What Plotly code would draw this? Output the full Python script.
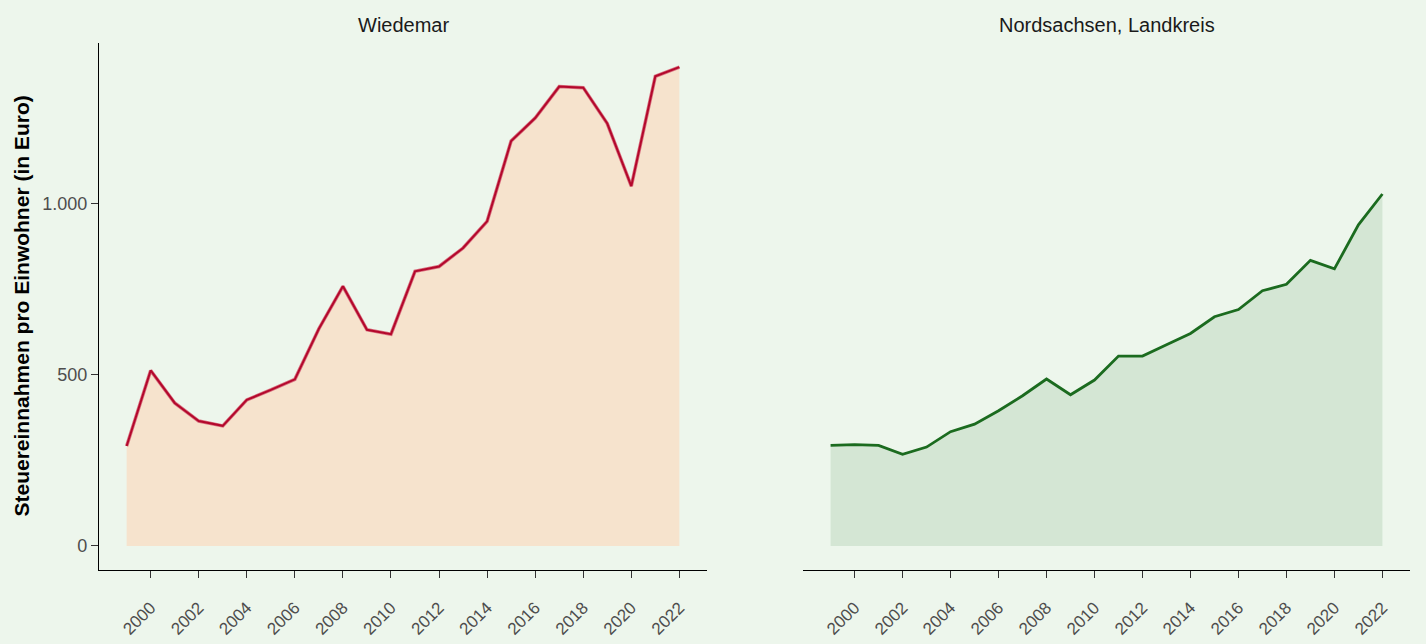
import plotly.graph_objects as go

years = list(range(1999, 2023))
wiedemar = [292, 513, 418, 365, 351, 427, 456, 487, 635, 759, 632, 619, 803, 817, 871, 949,
            1184, 1251, 1343, 1340, 1235, 1052, 1373, 1400]
nordsachsen = [294, 296, 294, 268, 289, 334, 356, 395, 439, 488, 442, 485, 555, 555, 588, 621,
               670, 691, 746, 765, 835, 810, 939, 1029]
panel_titles = ["Wiedemar", "Nordsachsen, Landkreis"]
x_ticks = list(range(2000, 2023, 2))
x_ticktext = [str(v) for v in x_ticks]
y_ticks = [0, 500, 1000]
y_ticktext = ["0", "500", "1.000"]
y_title = "Steuereinnahmen pro Einwohner (in Euro)"

BG = "#EDF6EC"
FONT = "Liberation Sans, Arial, sans-serif"

fig = go.Figure()

# Wiedemar
fig.add_trace(go.Scatter(x=years, y=wiedemar, mode="lines", fill="tozeroy",
                         fillcolor="#F6E3CD", line=dict(color="#D9707F", width=3.5),
                         xaxis="x", yaxis="y", hoverinfo="skip", showlegend=False))
fig.add_trace(go.Scatter(x=years, y=wiedemar, mode="lines",
                         line=dict(color="#B3082C", width=2),
                         xaxis="x", yaxis="y", showlegend=False))
# Nordsachsen
fig.add_trace(go.Scatter(x=years, y=nordsachsen, mode="lines", fill="tozeroy",
                         fillcolor="#D4E6D4", line=dict(color="#1B6B1F", width=2.8),
                         xaxis="x2", yaxis="y", showlegend=False))

W, H = 1426, 644
ml, mr, mt, mb = 99, 16, 43, 74
pw = W - ml - mr
d1 = [0, (707 - ml) / pw]
d2 = [(803 - ml) / pw, 1]

xcommon = dict(range=[1997.85, 2023.15], tickvals=x_ticks, ticktext=x_ticktext,
               tickangle=-45, showgrid=False, zeroline=False, showline=True,
               linecolor="#000000", linewidth=1.2, ticks="outside", ticklen=7,
               tickwidth=1.2, tickcolor="#333333", ticklabelstandoff=13,
               automargin=False,
               tickfont=dict(family=FONT, size=17, color="#4D4D4D"))

fig.update_layout(
    width=W, height=H,
    margin=dict(l=ml, r=mr, t=mt, b=mb, autoexpand=False),
    paper_bgcolor=BG, plot_bgcolor=BG,
    xaxis=dict(domain=d1, anchor="y", **xcommon),
    xaxis2=dict(domain=d2, anchor="free", position=0, **xcommon),
    yaxis=dict(range=[-70.5, 1470.5], tickvals=y_ticks, ticktext=y_ticktext,
               showgrid=False, zeroline=False, showline=True, linecolor="#000000",
               linewidth=1.2, ticks="outside", ticklen=7, tickwidth=1.2,
               tickcolor="#333333", anchor="x", automargin=False,
               tickfont=dict(family=FONT, size=18, color="#4D4D4D")),
    annotations=[
        dict(text=panel_titles[0], x=(d1[0] + d1[1]) / 2, y=1, xref="paper", yref="paper",
             yshift=18, showarrow=False, xanchor="center", yanchor="middle",
             font=dict(family=FONT, size=20, color="#1A1A1A")),
        dict(text=panel_titles[1], x=(d2[0] + d2[1]) / 2, y=1, xref="paper", yref="paper",
             yshift=18, showarrow=False, xanchor="center", yanchor="middle",
             font=dict(family=FONT, size=20, color="#1A1A1A")),
        dict(text="<b>" + y_title + "</b>", x=0, y=0.5, xref="paper", yref="paper",
             xshift=-78, showarrow=False, textangle=-90, xanchor="center", yanchor="middle",
             font=dict(family=FONT, size=21, color="#000000")),
    ],
)

fig.write_html(
    "out.html",
    config={"displayModeBar": False},
    post_script="document.body.style.margin='0';document.body.style.padding='0';"
                "document.body.style.background='" + BG + "';",
)
